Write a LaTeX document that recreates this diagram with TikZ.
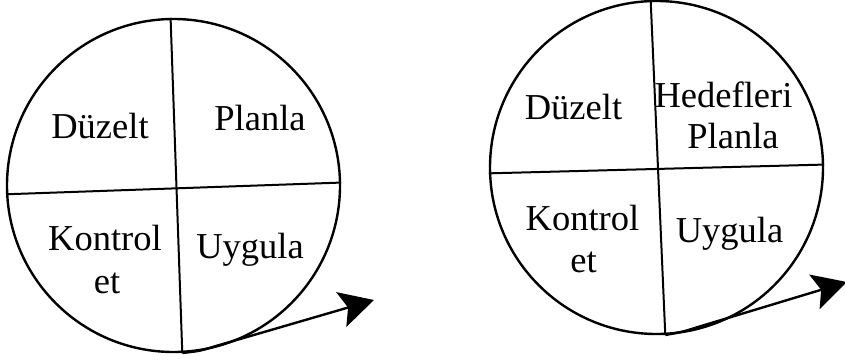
\documentclass[tikz,border=0pt]{standalone}
\usepackage{fontspec}
\setmainfont{Liberation Serif}
\usetikzlibrary{arrows.meta}
\begin{document}
\begin{tikzpicture}[x=1pt,y=-1pt,
  wheel/.style={circle,draw,line width=2.4pt,minimum size=333pt,inner sep=0pt},
  divider/.style={line width=2pt},
  lbl/.style={anchor=base,inner sep=0pt,font=\fontsize{36.5}{40}\selectfont},
  flow/.style={line width=2.4pt,-{Stealth[length=34pt,width=36pt,inset=7pt]}}]
\useasboundingbox (0,0) rectangle (845,361);

% left cycle
\node[wheel] (c1) at (173.5,185.5) {};
\draw[divider] (c1.91) -- (c1.273);
\draw[divider] (c1.183) -- (c1.1);
\node[lbl] (d1) at (100,138) {Düzelt};
\node[lbl] (p1) at (260,130) {Planla};
\node[lbl] (k1) at (105,250) {Kontrol};
\node[lbl] (e1) at (107,293) {et};
\node[lbl] (u1) at (250,258) {Uygula};
\coordinate (t1) at (374,300);
\draw[flow] (c1.273) .. controls (200,351) .. (216,346) -- (t1);

% right cycle
\node[wheel] (c2) at (656.5,167.5) {};
\draw[divider] (c2.92) -- (c2.273);
\draw[divider] (c2.182) -- (c2.1.5);
\node[lbl] (d2) at (573.5,119) {Düzelt};
\node[lbl] (h2) at (723.5,107) {Hedefleri};
\node[lbl] (p2) at (733,148) {Planla};
\node[lbl] (k2) at (582.5,230) {Kontrol};
\node[lbl] (e2) at (583.5,272) {et};
\node[lbl] (u2) at (729.5,242) {Uygula};
\coordinate (t2) at (847,282);
\draw[flow] (c2.273) .. controls (682,332) .. (698,327) -- (t2);
\end{tikzpicture}
\end{document}
